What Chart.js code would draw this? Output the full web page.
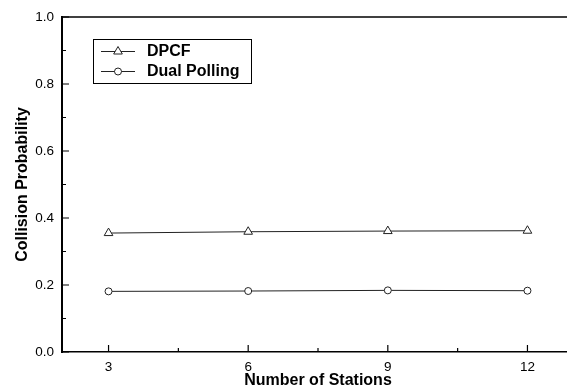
<!DOCTYPE html>
<html>
<head>
<meta charset="utf-8">
<script src="https://cdn.jsdelivr.net/npm/chart.js@4/dist/chart.umd.min.js"></script>
<style>
  html, body { margin: 0; padding: 0; background: #fff; overflow: hidden; }
  #wrap { width: 580px; height: 390px; }
</style>
</head>
<body>
<div id="wrap"><canvas id="chart"></canvas></div>
<script>
const stations = [3, 6, 9, 12];
const dpcf = [0.355, 0.359, 0.361, 0.362];
const dualPolling = [0.181, 0.182, 0.184, 0.183];
const yTicks = [0, 0.2, 0.4, 0.6, 0.8, 1.0];

const FONT = 'Arial, "Liberation Sans", sans-serif';

function points(values) {
  return stations.map(function (s, i) { return { x: s, y: values[i] }; });
}

// inward major/minor ticks plus top frame line
const frame = {
  id: "frame",
  afterDraw(chart) {
    const ctx = chart.ctx;
    const a = chart.chartArea;
    const xs = chart.scales.x;
    const ys = chart.scales.y;
    ctx.save();
    ctx.strokeStyle = "#000";
    ctx.lineWidth = 1.5;
    ctx.beginPath();
    ctx.moveTo(a.left, a.top);
    ctx.lineTo(a.right, a.top);
    ctx.stroke();

    ctx.lineWidth = 1.2;
    ctx.beginPath();
    stations.forEach(function (v, i) {
      const px = xs.getPixelForValue(v);
      ctx.moveTo(px, a.bottom);
      ctx.lineTo(px, a.bottom - 7);
      if (i < stations.length - 1) {
        const mx = xs.getPixelForValue((v + stations[i + 1]) / 2);
        ctx.moveTo(mx, a.bottom);
        ctx.lineTo(mx, a.bottom - 4);
      }
    });
    yTicks.forEach(function (v, i) {
      const py = ys.getPixelForValue(v);
      ctx.moveTo(a.left, py);
      ctx.lineTo(a.left + 7, py);
      if (i < yTicks.length - 1) {
        const my = ys.getPixelForValue((v + yTicks[i + 1]) / 2);
        ctx.moveTo(a.left, my);
        ctx.lineTo(a.left + 4, my);
      }
    });
    ctx.stroke();
    ctx.restore();
  },
};

// boxed legend with line + marker samples
const boxLegend = {
  id: "boxLegend",
  afterDraw(chart) {
    const ctx = chart.ctx;
    const x0 = 93, y0 = 39, w = 158, h = 44;
    ctx.save();
    ctx.strokeStyle = "#000";
    ctx.lineWidth = 1;
    ctx.strokeRect(x0 + 0.5, y0 + 0.5, w, h);
    chart.data.datasets.forEach(function (ds, i) {
      const cy = 51 + i * 20;
      ctx.strokeStyle = ds.borderColor;
      ctx.lineWidth = 1;
      ctx.beginPath();
      ctx.moveTo(101, cy + 0.5);
      ctx.lineTo(135, cy + 0.5);
      ctx.stroke();
      ctx.fillStyle = "#fff";
      Chart.helpers.drawPoint(ctx, {
        pointStyle: ds.pointStyle,
        radius: ds.pointRadius,
        borderWidth: 1,
      }, 118, cy + 0.5);
      ctx.fillStyle = "#000";
      ctx.font = "bold 16px " + FONT;
      ctx.textBaseline = "middle";
      ctx.fillText(ds.label, 147, cy + 1);
    });
    ctx.restore();
  },
};

const commonDs = {
  borderColor: "#222",
  borderWidth: 1,
  pointBackgroundColor: "#fff",
  pointBorderColor: "#222",
  pointBorderWidth: 1,
  tension: 0,
};

new Chart(document.getElementById("chart"), {
  type: "line",
  data: {
    datasets: [
      Object.assign({ label: "DPCF", data: points(dpcf), pointStyle: "triangle", pointRadius: 5 }, commonDs),
      Object.assign({ label: "Dual Polling", data: points(dualPolling), pointStyle: "circle", pointRadius: 3.5 }, commonDs),
    ],
  },
  plugins: [frame, boxLegend],
  options: {
    responsive: true,
    maintainAspectRatio: false,
    animation: false,
    events: [],
    layout: { padding: { top: 17, right: 5, left: 0, bottom: 0 } },
    plugins: {
      legend: { display: false },
      tooltip: { enabled: false },
    },
    scales: {
      x: {
        type: "linear",
        min: 2,
        max: 13,
        afterBuildTicks(scale) {
          scale.ticks = stations.map(function (v) { return { value: v }; });
        },
        afterFit(scale) { scale.height = 38; },
        grid: { display: false, drawTicks: false, tickLength: 0 },
        border: { display: true, color: "#000", width: 1.5 },
        ticks: {
          padding: 7,
          color: "#000",
          font: { family: FONT, size: 13.5 },
          maxRotation: 0,
        },
        title: {
          display: true,
          text: "Number of Stations",
          color: "#000",
          font: { family: FONT, size: 16, weight: "bold" },
          padding: { top: 0, bottom: 0 },
        },
      },
      y: {
        min: 0,
        max: 1.0,
        afterBuildTicks(scale) {
          scale.ticks = yTicks.map(function (v) { return { value: v }; });
        },
        afterFit(scale) { scale.width = 62; },
        grid: { display: false, drawTicks: false, tickLength: 0 },
        border: { display: true, color: "#000", width: 2 },
        ticks: {
          padding: 8,
          color: "#000",
          font: { family: FONT, size: 13.5 },
          callback: function (v) { return v.toFixed(1); },
        },
        title: {
          display: true,
          text: "Collision Probability",
          color: "#000",
          font: { family: FONT, size: 16, weight: "bold" },
          padding: { top: 13, bottom: 0 },
        },
      },
    },
  },
});
</script>
</body>
</html>
